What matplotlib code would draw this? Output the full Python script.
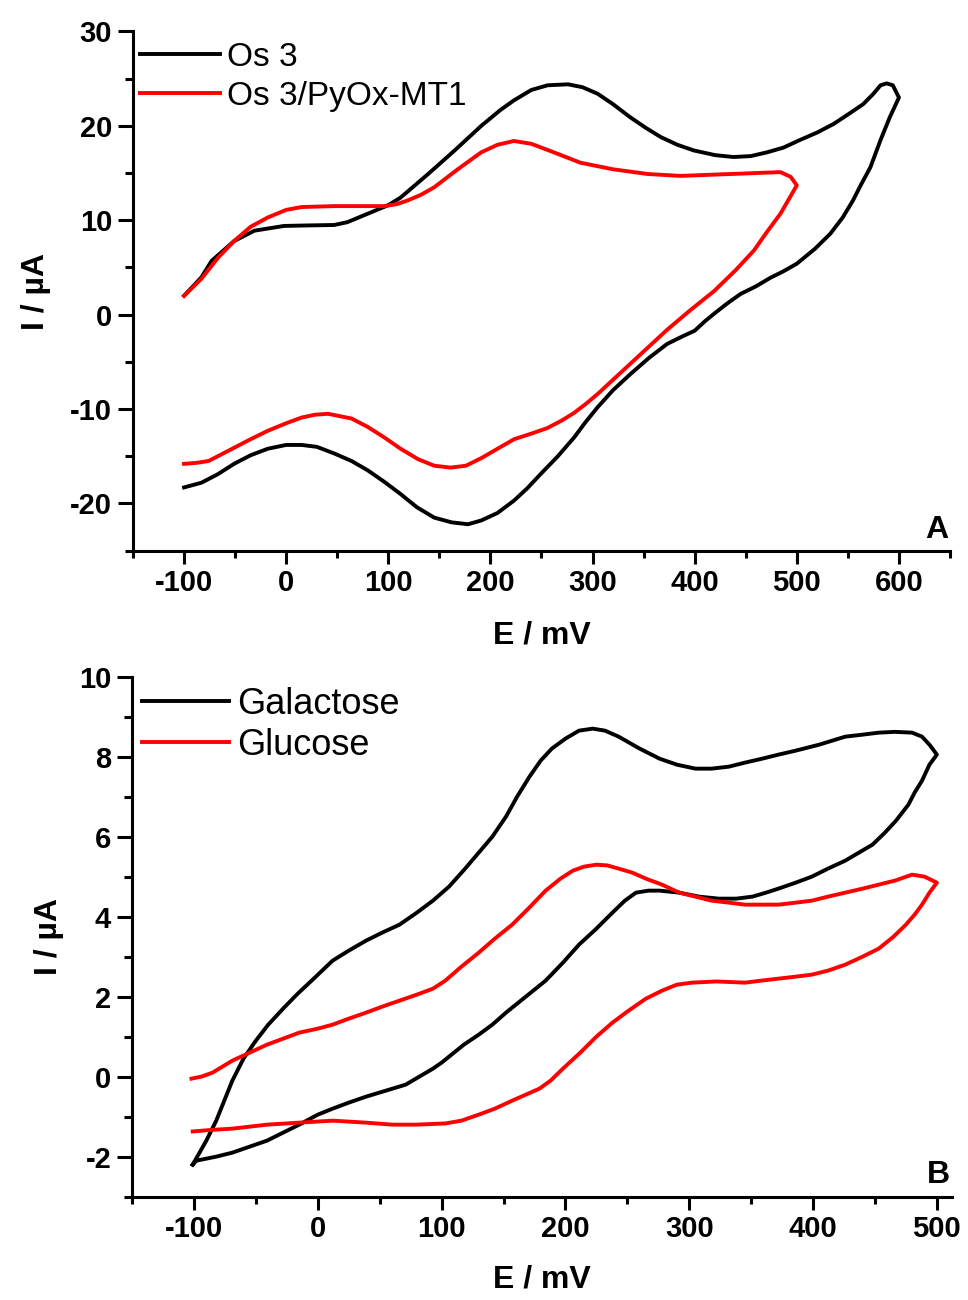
import matplotlib.pyplot as plt
from matplotlib.ticker import MultipleLocator

plt.rcParams['font.family'] = ['Liberation Sans', 'DejaVu Sans']
plt.rcParams['axes.unicode_minus'] = False

# ---- panel A data (E in mV, I in uA) ----
os3_E = [-100, -83, -73, -51, -31, -2, 20, 47, 60, 80, 100, 112, 139, 165, 191, 210, 223, 240,
         256, 276, 290, 305, 320, 337, 352, 367, 383, 399, 420, 438, 455, 471, 487, 503, 520,
         536, 550, 565, 575, 582, 588, 594, 600,
         591, 582, 572, 563, 555, 545, 533, 518, 500, 487, 474, 460, 445, 432, 419, 410, 400,
         388, 373, 355, 337, 320, 305, 293, 282, 266, 249, 236, 223, 207, 191, 178, 162, 145,
         128, 112, 96, 80, 64, 47, 30, 15, 0, -18, -35, -51, -67, -83, -100]
os3_I = [2.0, 3.96, 5.7, 7.8, 8.9, 9.4, 9.45, 9.5, 9.8, 10.7, 11.6, 12.4, 14.9, 17.4, 20.0, 21.7, 22.7, 23.8,
         24.3, 24.4, 24.1, 23.4, 22.3, 20.9, 19.8, 18.8, 18.0, 17.4, 16.9, 16.7, 16.8, 17.2, 17.7, 18.5, 19.3,
         20.2, 21.2, 22.3, 23.4, 24.3, 24.5, 24.3, 23.0,
         20.9, 18.5, 15.6, 13.8, 12.1, 10.3, 8.6, 7.0, 5.4, 4.6, 3.9, 3.0, 2.2, 1.2, 0.1, -0.7, -1.7,
         -2.3, -3.1, -4.6, -6.3, -8.0, -9.8, -11.4, -13.0, -15.0, -16.9, -18.4, -19.7, -21.0, -21.8, -22.2, -22.0, -21.5,
         -20.4, -19.0, -17.7, -16.5, -15.5, -14.7, -14.0, -13.8, -13.8, -14.2, -14.9, -15.8, -16.9, -17.8, -18.3]

pyox_E = [-100, -83, -67, -51, -35, -18, 0, 15, 47, 70, 96, 108, 119, 132, 145, 168, 191, 207,
          223, 240, 262, 288, 320, 354, 386, 484, 494, 500,
          484, 471, 458, 440, 419, 396, 373, 355, 337, 321, 305, 294, 282, 270, 256, 240, 223,
          207, 191, 176, 161, 145, 129, 112, 96, 80, 64, 41, 28, 15, 0, -18, -35, -51, -76, -88, -100]
pyox_I = [2.0, 3.8, 6.0, 7.8, 9.3, 10.3, 11.1, 11.4, 11.5, 11.5, 11.5, 11.7, 12.1, 12.7, 13.5, 15.4, 17.2, 18.0,
          18.4, 18.1, 17.2, 16.1, 15.4, 14.9, 14.7, 15.1, 14.6, 13.7,
          10.7, 8.8, 6.8, 4.7, 2.5, 0.5, -1.6, -3.4, -5.2, -6.8, -8.4, -9.4, -10.4, -11.2, -12.0, -12.6, -13.2,
          -14.2, -15.2, -16.0, -16.2, -16.0, -15.3, -14.2, -13.0, -11.9, -11.0, -10.5, -10.6, -10.9, -11.5, -12.3,
          -13.2, -14.1, -15.5, -15.7, -15.8]

# ---- panel B data ----
gal_E = [-101, -90, -82, -69, -60, -50, -40, -28, -17, -5, 12, 25, 39, 52, 66, 80, 93, 106, 119,
         130, 141, 152, 161, 171, 180, 189, 200, 211, 222, 232, 243, 260, 276, 290, 305, 318, 332,
         345, 359, 372, 386, 405, 426, 440, 453, 466, 480, 488, 494, 500,
         494, 488, 482, 477, 472, 467, 458, 448, 437, 426, 412, 399, 386, 372, 362, 351, 338, 324,
         308, 292, 276, 267, 257, 248, 238, 225, 211, 198, 184, 168, 152, 141, 130, 118, 106, 100,
         93, 82, 71, 55, 39, 25, 12, 0, -15, -28, -41, -55, -69, -82, -98, -101]
gal_I = [-2.2, -1.6, -1.1, -0.1, 0.45, 0.9, 1.3, 1.7, 2.05, 2.4, 2.9, 3.15, 3.4, 3.6, 3.8, 4.1, 4.4, 4.75, 5.2,
         5.6, 6.0, 6.5, 7.0, 7.5, 7.9, 8.2, 8.45, 8.65, 8.7, 8.65, 8.5, 8.2, 7.95, 7.8, 7.7, 7.7, 7.75,
         7.85, 7.95, 8.05, 8.15, 8.3, 8.5, 8.55, 8.6, 8.62, 8.6, 8.5, 8.3, 8.05,
         7.8, 7.4, 7.1, 6.8, 6.6, 6.4, 6.1, 5.8, 5.6, 5.4, 5.2, 5.0, 4.85, 4.7, 4.6, 4.5, 4.45, 4.45,
         4.5, 4.6, 4.65, 4.65, 4.6, 4.4, 4.1, 3.7, 3.3, 2.85, 2.4, 2.0, 1.6, 1.3, 1.05, 0.8, 0.5, 0.35,
         0.2, 0.0, -0.2, -0.35, -0.5, -0.65, -0.8, -0.95, -1.2, -1.4, -1.6, -1.75, -1.9, -2.0, -2.1, -2.2]

glu_E = [-102, -94, -85, -77, -69, -55, -41, -28, -15, 0, 12, 25, 39, 52, 66, 80, 93, 103, 116,
         130, 143, 157, 170, 184, 196, 206, 215, 225, 234, 243, 254, 265, 278, 292, 305, 318, 332,
         345, 358, 372, 386, 399, 412, 426, 440, 453, 466, 480, 490, 500,
         494, 488, 482, 475, 465, 453, 440, 426, 412, 399, 386, 372, 358, 345, 322, 302, 290, 278,
         265, 251, 238, 225, 212, 198, 188, 179, 168, 157, 143, 130, 116, 103, 79, 60, 39, 12, -15,
         -41, -55, -69, -85, -101]
glu_I = [-0.05, 0.0, 0.1, 0.25, 0.4, 0.6, 0.8, 0.95, 1.1, 1.2, 1.3, 1.45, 1.6, 1.75, 1.9, 2.05, 2.2, 2.4, 2.75,
         3.1, 3.45, 3.8, 4.2, 4.65, 4.95, 5.15, 5.25, 5.3, 5.28, 5.2, 5.1, 4.95, 4.8, 4.6, 4.5, 4.4, 4.35,
         4.3, 4.3, 4.3, 4.35, 4.4, 4.5, 4.6, 4.7, 4.8, 4.9, 5.05, 5.0, 4.85,
         4.6, 4.3, 4.05, 3.8, 3.5, 3.2, 3.0, 2.8, 2.65, 2.55, 2.5, 2.45, 2.4, 2.35, 2.38, 2.35, 2.3, 2.15,
         1.95, 1.65, 1.35, 1.0, 0.6, 0.2, -0.1, -0.3, -0.45, -0.6, -0.8, -0.95, -1.1, -1.17, -1.2, -1.2, -1.15, -1.1, -1.15,
         -1.2, -1.25, -1.3, -1.33, -1.37]


def style_axis(ax, xlim, ylim, ymaj, ymin):
    ax.set_xlim(*xlim)
    ax.set_ylim(*ylim)
    for s in ['top', 'right']:
        ax.spines[s].set_visible(False)
    for s in ['left', 'bottom']:
        ax.spines[s].set_linewidth(2.2)
    ax.xaxis.set_major_locator(MultipleLocator(100))
    ax.xaxis.set_minor_locator(MultipleLocator(50))
    ax.yaxis.set_major_locator(MultipleLocator(ymaj))
    ax.yaxis.set_minor_locator(MultipleLocator(ymin))
    ax.tick_params(axis='x', which='major', length=9, width=2.2, pad=4, labelsize=21)
    ax.tick_params(axis='x', which='minor', length=5, width=2.2)
    ax.tick_params(axis='y', which='major', length=11, width=2.2, pad=4, labelsize=21)
    ax.tick_params(axis='y', which='minor', length=6, width=2.2)
    for lab in ax.get_xticklabels() + ax.get_yticklabels():
        lab.set_fontweight('bold')
    ax.set_xlabel('E / mV', fontsize=23, fontweight='bold')
    ax.set_ylabel('I / µA', fontsize=23, fontweight='bold')


fig = plt.figure(figsize=(9.68, 13.0), dpi=100)

# panel A
ax1 = fig.add_axes([0.1374, 0.5764, 0.9814 - 0.1374, 0.9758 - 0.5764])
ax1.plot(os3_E, os3_I, color='black', lw=2.8, label='Os 3', solid_joinstyle='round')
ax1.plot(pyox_E, pyox_I, color='#ff0000', lw=2.8, label='Os 3/PyOx-MT1', solid_joinstyle='round')
style_axis(ax1, (-150, 650), (-25, 30), 10, 5)
ax1.set_yticks([-20, -10, 0, 10, 20, 30])
ax1.xaxis.set_label_coords(0.5, -0.135)
ax1.yaxis.set_label_coords(-0.10, 0.5)
ax1.legend(loc='upper left', bbox_to_anchor=(0.009, 0.98), frameon=False, fontsize=24,
           handlelength=2.4, handletextpad=0.2, labelspacing=0.24, borderpad=0, borderaxespad=0)
ax1.text(0.998, 0.01, 'A', transform=ax1.transAxes, ha='right', va='bottom',
         fontsize=23, fontweight='bold')

# panel B
ax2 = fig.add_axes([0.1364, 0.0795, 0.9832 - 0.1364, 0.4795 - 0.0795])
ax2.plot(gal_E, gal_I, color='black', lw=2.8, label='Galactose', solid_joinstyle='round')
ax2.plot(glu_E, glu_I, color='#ff0000', lw=2.8, label='Glucose', solid_joinstyle='round')
style_axis(ax2, (-150, 512), (-3, 10), 2, 1)
ax2.set_yticks([-2, 0, 2, 4, 6, 8, 10])
ax2.xaxis.set_label_coords(0.5, -0.13)
ax2.yaxis.set_label_coords(-0.083, 0.5)
ax2.legend(loc='upper left', bbox_to_anchor=(0.012, 0.981), frameon=False, fontsize=26,
           handlelength=2.4, handletextpad=0.25, labelspacing=0.18, borderpad=0, borderaxespad=0)
ax2.text(0.998, 0.012, 'B', transform=ax2.transAxes, ha='right', va='bottom',
         fontsize=23, fontweight='bold')

fig.savefig('out.png', dpi=100)
